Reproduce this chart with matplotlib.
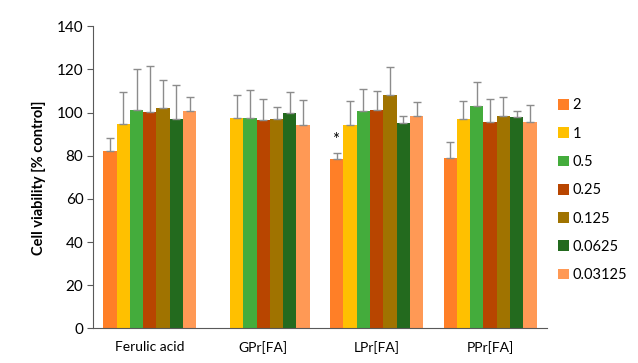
import numpy as np
import matplotlib.pyplot as plt

plt.rcParams['font.family'] = ['Lato', 'DejaVu Sans']

groups = ['Ferulic acid', 'GPr[FA]', 'LPr[FA]', 'PPr[FA]']
doses = ['2', '1', '0.5', '0.25', '0.125', '0.0625', '0.03125']
colors = ['#FF7F27', '#FFC000', '#44AC3C', '#B84500', '#A07300', '#236A1E', '#FF9955']

# mean viability per dose (rows) for each compound (columns); nan = not tested
means = np.array([
    [82.2, np.nan, 78.3, 79.1],
    [94.7, 97.6, 94.3, 97.0],
    [101.1, 97.3, 100.6, 103.2],
    [100.1, 96.6, 101.1, 95.8],
    [102.3, 96.9, 108.3, 98.4],
    [96.9, 99.8, 95.3, 98.0],
    [100.6, 94.3, 98.4, 95.6],
])
sds = np.array([
    [5.9, np.nan, 2.8, 7.3],
    [14.7, 10.6, 11.1, 8.4],
    [19.0, 13.2, 10.2, 11.1],
    [21.5, 9.9, 9.1, 10.7],
    [13.0, 5.9, 13.0, 8.7],
    [15.8, 9.6, 3.3, 2.9],
    [6.5, 11.7, 6.7, 7.8],
])

fig = plt.figure(figsize=(6.38, 3.63), dpi=100)
ax = fig.add_axes([0.146, 0.0956, 0.711, 0.832])

x = np.arange(len(groups))
w = 0.82 / len(doses)
for i, d in enumerate(doses):
    pos = x - 0.41 + w * (i + 0.5)
    ax.bar(pos, means[i], w, color=colors[i], label=d, zorder=2)
    ax.errorbar(pos, means[i], yerr=[np.zeros(len(groups)), sds[i]], fmt='none',
                ecolor='#8c8c8c', elinewidth=1, capsize=3, capthick=1, zorder=3)

# significance mark on LPr[FA] at dose 2
pos_star = x[2] - 0.41 + w * 0.4
ax.text(pos_star, means[0][2] + sds[0][2] + 6, '*', ha='center', va='center', fontsize=12)

ax.set_xlim(-0.5, len(groups) - 0.5)
ax.set_ylim(0, 140)
ax.set_yticks(np.arange(0, 141, 20))
ax.set_xticks(x)
ax.set_xticklabels(groups)
ax.tick_params(axis='x', length=0, pad=9, labelsize=10)
ax.tick_params(axis='y', length=4, color='#595959', labelsize=11, pad=3)
for s in ['top', 'right']:
    ax.spines[s].set_visible(False)
ax.spines['left'].set_color('#595959')
ax.spines['bottom'].set_color('#595959')
ax.set_ylabel('Cell viability [% control]', fontsize=10.5, fontweight='bold', labelpad=8)

ax.legend(loc='upper left', bbox_to_anchor=(1.005, 0.79), frameon=False, fontsize=10.5,
          handlelength=0.75, handleheight=0.75, handletextpad=0.25, labelspacing=0.98,
          borderaxespad=0.2)

fig.savefig('out.png', dpi=100)
